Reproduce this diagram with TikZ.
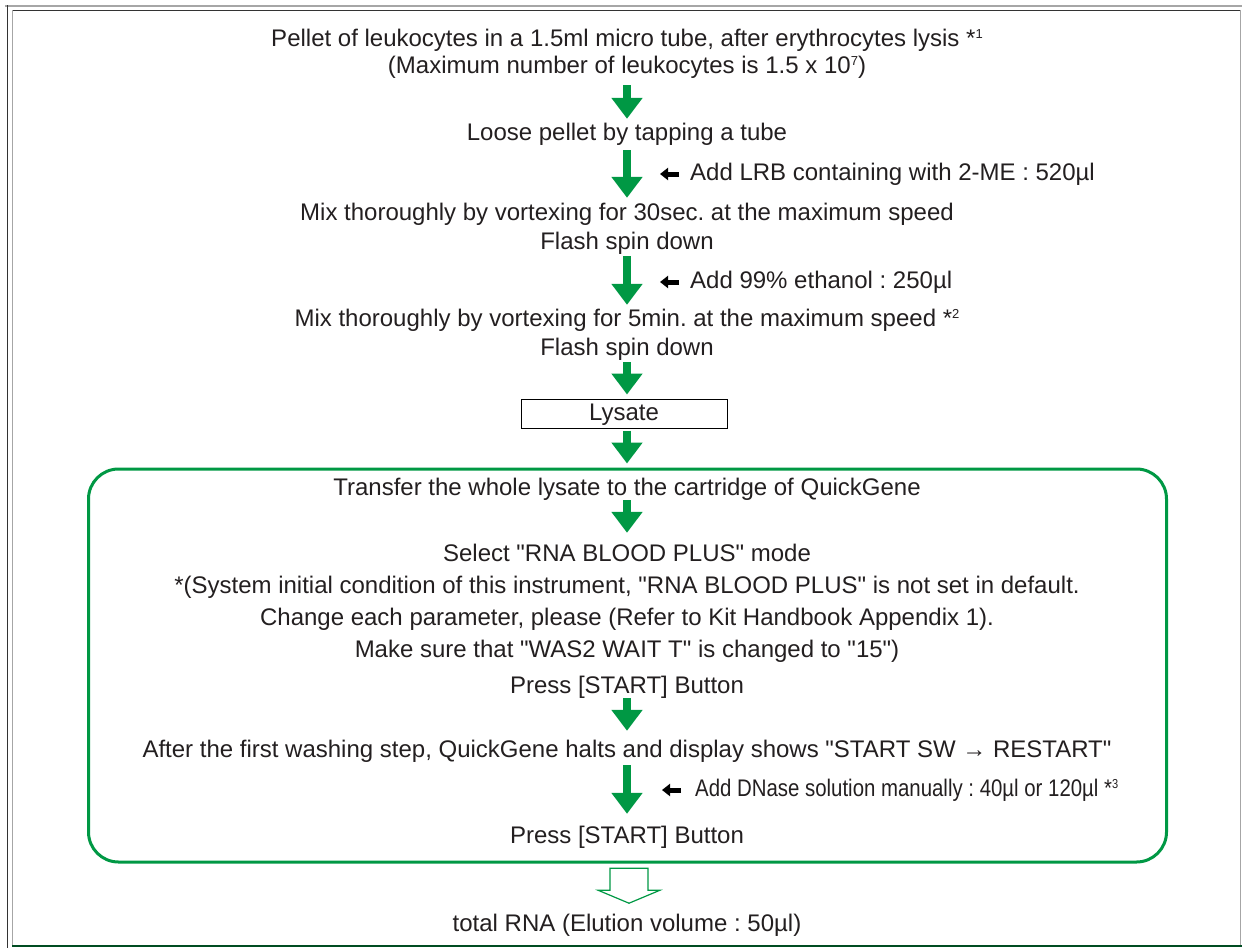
\documentclass[tikz,border=0pt]{standalone}
\usepackage{fontspec}
\newfontfamily\mainf{Liberation Sans}
\usetikzlibrary{arrows.meta,calc}
\definecolor{fgreen}{RGB}{0,152,68}
\definecolor{txt}{RGB}{35,31,32}
\newcommand{\sups}[1]{\raisebox{7.5pt}{\fontsize{13}{13}\selectfont #1}}
\begin{document}
\frenchspacing
\begin{tikzpicture}[x=1pt,y=-1pt,
  every node/.style={font=\mainf\fontsize{24}{28}\selectfont\frenchspacing, text=txt},
  txtline/.style={inner sep=0pt, anchor=base, text height=17pt, text depth=5pt},
  flow/.style={draw=fgreen, line width=8pt, -{Triangle[width=30pt,length=21pt]}},
  addlabel/.style={inner sep=0pt, anchor=base west},
  addarrow/.style={draw=black, line width=5pt, -{Triangle[width=12pt,length=8pt]}},
  hollow/.style={draw=fgreen, line width=1.2pt, fill=white}
]
\useasboundingbox (0,0) rectangle (1242,948);
% frame
\draw[gray!70, line width=2pt] (5,5.5) -- (1242,5.5);
\draw[black!80, line width=1.2pt] (7.5,5) -- (7.5,948);
\draw[black!80, line width=1.5pt] (12,10.5) -- (1240,10.5);
\draw[gray!70, line width=1.5pt] (12.5,10) -- (12.5,946);
\draw[gray!70, line width=1.5pt] (1240.5,10) -- (1240.5,946);
\draw[fgreen!50!black, line width=2pt] (12,945.5) -- (1242,945.5);

% upper steps
\node[txtline] (t1) at (627,46) {Pellet of leukocytes in a 1.5ml micro tube, after erythrocytes lysis *\sups{1}};
\node[txtline] (t2) at (627,73) {(Maximum number of leukocytes is 1.5 x 10\sups{7})};
\node[txtline] (t3) at (627,140) {Loose pellet by tapping a tube};
\node[txtline] (t4) at (627,220) {Mix thoroughly by vortexing for 30sec. at the maximum speed};
\node[txtline] (t5) at (627,249) {Flash spin down};
\node[txtline] (t6) at (627,326) {Mix thoroughly by vortexing for 5min. at the maximum speed *\sups{2}};
\node[txtline] (t7) at (627,355) {Flash spin down};
\node[draw=black, line width=1pt, minimum width=206pt, minimum height=29pt, inner sep=0pt, text height=17pt, text depth=3pt] (lys) at (624,413.5) {Lysate};

% panel
\node[draw=fgreen, line width=3pt, rounded corners=30pt, minimum width=1078pt, minimum height=393pt, inner sep=0pt] (panel) at (627.5,665.5) {};
\node[txtline] (b1) at (627,495) {Transfer the whole lysate to the cartridge of QuickGene};
\node[txtline] (b2) at (627,561) {Select "RNA BLOOD PLUS" mode};
\node[txtline] (b3) at (627,593) {*(System initial condition of this instrument, "RNA BLOOD PLUS" is not set in default.};
\node[txtline] (b4) at (627,625) {Change each parameter, please (Refer to Kit Handbook Appendix 1).};
\node[txtline] (b5) at (627,657) {Make sure that "WAS2 WAIT T" is changed to "15")};
\node[txtline] (b6) at (627,693) {Press [START] Button};
\node[txtline] (b7) at (627,757) {After the first washing step, QuickGene halts and display shows "START SW → RESTART"};
\node[txtline] (b8) at (627,843) {Press [START] Button};
\node[txtline] (res) at (627,931) {total RNA (Elution volume : 50µl)};

% side labels
\node[addlabel] (s1) at (690,180) {Add LRB containing with 2-ME : 520µl};
\node[addlabel] (s2) at (690,288) {Add 99\% ethanol : 250µl};
\node[addlabel] (s3) at (695,796) {\scalebox{0.85}[1]{Add DNase solution manually : 40µl or 120µl *\sups{3}}};
\draw[addarrow] ($(s1.base west)+(-11,-6)$) -- ++(-19,0);
\draw[addarrow] ($(s2.base west)+(-11,-6)$) -- ++(-19,0);
\draw[addarrow] ($(s3.base west)+(-14,-6)$) -- ++(-19,0);

% flow arrows
\draw[flow, shorten <=7pt, shorten >=4pt] (t2.south) -- (t3.north);
\draw[flow, shorten <=5pt, shorten >=5pt] (t3.south) -- (t4.north);
\draw[flow, shorten <=2pt, shorten >=4pt] (t5.south) -- (t6.north);
\draw[flow, shorten <=2pt, shorten >=4pt] (t7.south) -- (t7.south |- lys.north);
\draw[flow, shorten <=2pt, shorten >=4pt] (t7.south |- lys.south) -- (t7.south |- panel.north);
\draw[flow, shorten <=0pt, shorten >=11pt] (b1.south) -- (b2.north);
\draw[flow, shorten <=0pt, shorten >=9pt] (b6.south) -- (b7.north);
\draw[flow, shorten <=3pt, shorten >=12pt] (b7.south) -- (b8.north);

% hollow result arrow
\coordinate (ha) at ($(b8.south)+(2,20)$);
\draw[hollow] ($(ha)+(-19,0)$) -- ++(38,0) -- ++(0,22) -- ++(12,0) -- ++(-31,13) -- ++(-31,-13) -- ++(12,0) -- cycle;
\end{tikzpicture}
\end{document}
